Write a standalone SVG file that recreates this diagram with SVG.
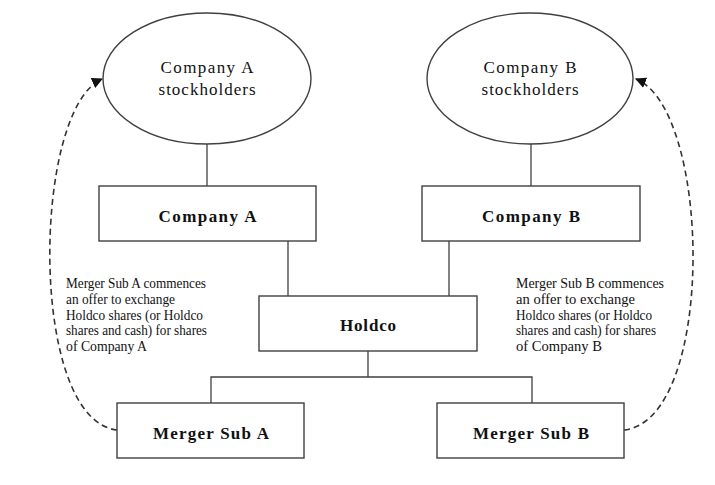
<svg xmlns="http://www.w3.org/2000/svg" width="715" height="485" viewBox="0 0 715 485">
  <defs>
    <marker id="arrow" viewBox="0 0 10 10" refX="9" refY="5" markerWidth="11" markerHeight="11" markerUnits="userSpaceOnUse" orient="auto">
      <path d="M0,0 L10,5 L0,10 Z" fill="#111"/>
    </marker>
    <style>
      .shape { fill: #fff; stroke: #404040; stroke-width: 1.4; }
      .link { fill: none; stroke: #404040; stroke-width: 1.3; }
      .dash { fill: none; stroke: #333; stroke-width: 1.6; stroke-dasharray: 6 4; }
      .oval-text { font-family: "Liberation Serif", "Times New Roman", serif; font-size: 17px; fill: #111; text-anchor: middle; }
      .box-text { font-family: "Liberation Serif", "Times New Roman", serif; font-size: 17px; font-weight: bold; fill: #111; text-anchor: middle; }
      .note { font-family: "Liberation Serif", "Times New Roman", serif; font-size: 14px; fill: #111; }
    </style>
  </defs>
  <rect width="715" height="485" fill="#fff"/>

  <!-- ownership lines -->
  <g id="connectors">
    <line class="link" x1="207" y1="144" x2="207" y2="186"/>
    <line class="link" x1="531" y1="144" x2="531" y2="186"/>
    <line class="link" x1="288" y1="241" x2="288" y2="296"/>
    <line class="link" x1="449" y1="241" x2="449" y2="296"/>
    <polyline class="link" points="211,403 211,377 532,377 532,403"/>
    <line class="link" x1="368" y1="351" x2="368" y2="377"/>
    <!-- exchange offers -->
    <path class="dash" d="M117,430 C28,420 32,110 102,79" marker-end="url(#arrow)"/>
    <path class="dash" d="M624,430 C716,420 712,110 636,79" marker-end="url(#arrow)"/>
  </g>

  <g id="company-a-stockholders">
    <ellipse class="shape" cx="207" cy="78.5" rx="104" ry="65.5"/>
    <text class="oval-text" x="207" y="73" textLength="93" lengthAdjust="spacing">Company A</text>
    <text class="oval-text" x="207" y="95" textLength="97" lengthAdjust="spacing">stockholders</text>
  </g>

  <g id="company-b-stockholders">
    <ellipse class="shape" cx="530" cy="78.5" rx="103" ry="65.5"/>
    <text class="oval-text" x="530" y="73" textLength="93" lengthAdjust="spacing">Company B</text>
    <text class="oval-text" x="530" y="95" textLength="97" lengthAdjust="spacing">stockholders</text>
  </g>

  <g id="company-a">
    <rect class="shape" x="99" y="186" width="217" height="55"/>
    <text class="box-text" x="207.5" y="222" textLength="98" lengthAdjust="spacing">Company A</text>
  </g>

  <g id="company-b">
    <rect class="shape" x="422" y="186" width="218" height="55"/>
    <text class="box-text" x="531" y="222" textLength="98" lengthAdjust="spacing">Company B</text>
  </g>

  <g id="holdco">
    <rect class="shape" x="259" y="296" width="218" height="55"/>
    <text class="box-text" x="368" y="331" textLength="56" lengthAdjust="spacing">Holdco</text>
  </g>

  <g id="merger-sub-a">
    <rect class="shape" x="117" y="403" width="187" height="55"/>
    <text class="box-text" x="211" y="439" textLength="116" lengthAdjust="spacing">Merger Sub A</text>
  </g>

  <g id="merger-sub-b">
    <rect class="shape" x="437" y="403" width="187" height="55"/>
    <text class="box-text" x="531" y="439" textLength="116" lengthAdjust="spacing">Merger Sub B</text>
  </g>

  <g id="note-a">
    <text class="note" x="66" y="288" textLength="140" lengthAdjust="spacingAndGlyphs">Merger Sub A commences</text>
    <text class="note" x="66" y="304" textLength="109" lengthAdjust="spacingAndGlyphs">an offer to exchange</text>
    <text class="note" x="66" y="320" textLength="137" lengthAdjust="spacingAndGlyphs">Holdco  shares (or Holdco</text>
    <text class="note" x="66" y="335" textLength="141" lengthAdjust="spacingAndGlyphs">shares and cash) for shares</text>
    <text class="note" x="66" y="351" textLength="81" lengthAdjust="spacingAndGlyphs">of Company  A</text>
  </g>

  <g id="note-b">
    <text class="note" x="516" y="288" textLength="148" lengthAdjust="spacingAndGlyphs">Merger Sub B commences</text>
    <text class="note" x="516" y="304" textLength="119" lengthAdjust="spacingAndGlyphs">an offer to exchange</text>
    <text class="note" x="516" y="320" textLength="136" lengthAdjust="spacingAndGlyphs">Holdco  shares (or Holdco</text>
    <text class="note" x="516" y="335" textLength="140" lengthAdjust="spacingAndGlyphs">shares and cash) for shares</text>
    <text class="note" x="516" y="351" textLength="86" lengthAdjust="spacingAndGlyphs">of Company B</text>
  </g>
</svg>
